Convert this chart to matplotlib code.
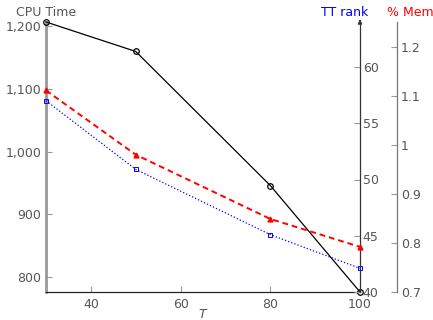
import numpy as np
import matplotlib.pyplot as plt
from matplotlib.ticker import FuncFormatter

# values
T = [30, 50, 80, 100]
cpu_time = [1207, 1160, 946, 776]
tt_rank = [57.0, 50.9, 45.1, 42.1]
mem_pct = [1.111, 0.980, 0.849, 0.792]

grey = "#555555"

fig = plt.figure(figsize=(4.33, 3.2), dpi=100)
ax = fig.add_axes([46 / 433, 1 - 292 / 320, 314 / 433, 270 / 320])
ax2 = ax.twinx()
ax3 = ax.twinx()

ax.plot(T, cpu_time, color="black", lw=0.9, marker="o", ms=4, mfc="none", mew=0.9,
        zorder=3, clip_on=False)
ax2.plot(T, tt_rank, color="blue", lw=0.9, ls=":", marker="s", ms=3, mfc="none", mew=0.7,
         clip_on=False)
ax3.plot(T, mem_pct, color="red", lw=1.4, ls=(0, (3, 2)), marker="^", ms=3.5, clip_on=False)

ax.set_xlim(30, 100)
ax.set_ylim(776, 1207)
ax2.set_ylim(40, 64)
ax3.set_ylim(0.7, 1.2505)

ax.set_xticks([40, 60, 80, 100])
ax.set_yticks([800, 900, 1000, 1100, 1200])
ax.yaxis.set_major_formatter(FuncFormatter(lambda v, p: f"{int(v):,}"))
ax2.set_yticks([40, 45, 50, 55, 60])
ax3.set_yticks([0.7, 0.8, 0.9, 1.0, 1.1, 1.2])
ax3.yaxis.set_major_formatter(FuncFormatter(lambda v, p: f"{v:g}"))

for a in (ax, ax2, ax3):
    for s in a.spines.values():
        s.set_visible(False)
    a.tick_params(labelsize=9, labelcolor=grey, colors="#999999", length=4, width=0.8)

ax.spines["left"].set_visible(True)
ax.spines["left"].set_color("#999999")
ax.spines["left"].set_linewidth(2)
ax.spines["bottom"].set_visible(True)
ax.spines["bottom"].set_color("#222222")
ax.spines["bottom"].set_linewidth(0.9)
ax.tick_params(axis="both", direction="in", labelcolor=grey)
ax.tick_params(axis="x", pad=4)

ax2.spines["right"].set_visible(True)
ax2.spines["right"].set_color("#333333")
ax2.spines["right"].set_linewidth(0.9)
ax2.tick_params(axis="y", direction="in", pad=2)
ax2.annotate("", xy=(1, 1.02), xytext=(1, 0.99), xycoords="axes fraction",
             arrowprops=dict(arrowstyle="-|>", color="#333333", lw=0.9, mutation_scale=6))

ax3.spines["right"].set_visible(True)
ax3.spines["right"].set_position(("axes", 1 + 36.7 / 314))
ax3.spines["right"].set_color("#777777")
ax3.spines["right"].set_linewidth(0.9)
ax3.tick_params(axis="y", direction="in", pad=3)

fig.text(46 / 433, 1 - 12 / 320, "CPU Time", color=grey, fontsize=9, ha="center", va="center")
fig.text(345 / 433, 1 - 12 / 320, "TT rank", color="blue", fontsize=9, ha="center", va="center")
fig.text(410 / 433, 1 - 12 / 320, "% Mem", color="red", fontsize=9, ha="center", va="center")
fig.text(203 / 433, 1 - 314 / 320, "$T$", color=grey, fontsize=9, ha="center", va="center")

fig.savefig("out.png", dpi=100)
